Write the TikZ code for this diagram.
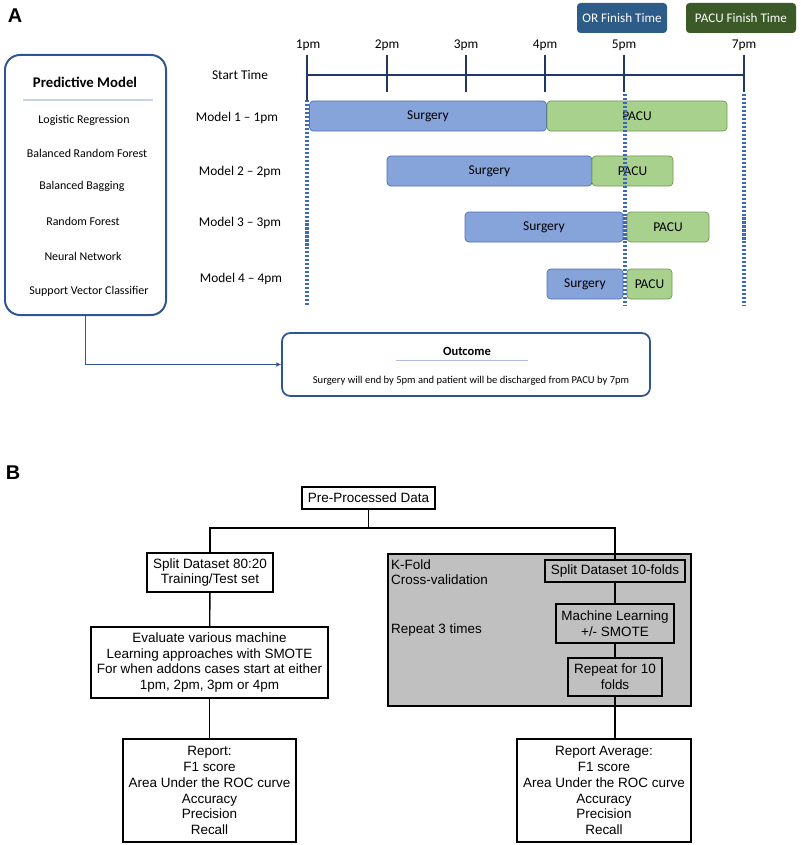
\documentclass[tikz,border=0pt]{standalone}
\usepackage{fontspec}
\setmainfont{Carlito}
\newfontfamily\arialf{Liberation Sans}
\usetikzlibrary{arrows.meta}
\definecolor{navy}{HTML}{1F3864}
\definecolor{pmblue}{HTML}{2F5597}
\definecolor{dotblue}{HTML}{3E68B8}
\definecolor{surgF}{HTML}{86A3DA}
\definecolor{surgD}{HTML}{4E72B8}
\definecolor{pacuF}{HTML}{A9D18E}
\definecolor{pacuD}{HTML}{6E9A50}
\definecolor{orbox}{HTML}{2E5C88}
\definecolor{pacubox}{HTML}{3B5A27}
\definecolor{sepline}{HTML}{C9D4E8}
\definecolor{grayfill}{HTML}{C0C0C0}
\begin{document}
\begin{tikzpicture}[x=0.03cm,y=-0.03cm,
  itemtxt/.style={font=\fontsize{10.2}{12}\selectfont, inner sep=0},
  lbl/.style={font=\fontsize{11.4}{13}\selectfont, inner sep=0},
  surg/.style={draw=surgD, fill=surgF, rounded corners=3.2pt, minimum height=0.9cm, inner sep=0, line width=0.6pt, font=\fontsize{11.5}{13}\selectfont},
  pacu/.style={draw=pacuD, fill=pacuF, rounded corners=3.2pt, minimum height=0.9cm, inner sep=0, line width=0.6pt, font=\fontsize{11.5}{13}\selectfont},
  hdr/.style={rounded corners=3pt, minimum height=0.9cm, inner sep=0, text=white, font=\fontsize{11.2}{13}\selectfont},
  dotl/.style={dotblue, line width=2.6pt, dash pattern=on 1.8pt off 1.6pt},
  axisl/.style={navy, line width=2.4pt},
  bbox/.style={draw=black, line width=1.4pt, align=center, inner sep=0, font=\arialf\fontsize{11.5}{13.6}\selectfont},
  bline/.style={black, line width=1.2pt},
  plabel/.style={font=\arialf\bfseries\fontsize{17}{19}\selectfont, inner sep=0}
]
\useasboundingbox (0,0) rectangle (800,845);

% ---------------- Panel A ----------------
\node[plabel] (labA) at (15,16) {A};

% Predictive model box
\node[draw=pmblue, line width=1.7pt, rounded corners=0.45cm, minimum width=4.83cm, minimum height=7.8cm] (pm) at (85.5,185) {};
\node[font=\bfseries\fontsize{12.6}{14}\selectfont, inner sep=0] (pmt) at (85,82) {Predictive Model};
\coordinate (pmsL) at (23,100);
\coordinate (pmsR) at (153,100);
\draw[sepline, line width=1pt] (pmsL) -- (pmsR);
\node[itemtxt] (i1) at (84,120) {Logistic Regression};
\node[itemtxt] (i2) at (87,153) {Balanced Random Forest};
\node[itemtxt] (i3) at (82,186) {Balanced Bagging};
\node[itemtxt] (i4) at (83,221) {Random Forest};
\node[itemtxt] (i5) at (83,256) {Neural Network};
\node[itemtxt] (i6) at (89,291) {Support Vector Classifier};

% header boxes
\node[hdr, fill=orbox, minimum width=2.7cm] (orf) at (622,18) {OR Finish Time};
\node[hdr, fill=pacubox, minimum width=3.3cm] (pcf) at (741,18) {PACU Finish Time};

% time labels
\node[lbl] (t1) at (308,45) {1pm};
\node[lbl] (t2) at (387,45) {2pm};
\node[lbl] (t3) at (466,45) {3pm};
\node[lbl] (t4) at (545,45) {4pm};
\node[lbl] (t5) at (624,45) {5pm};
\node[lbl] (t7) at (744,45) {7pm};

% axis
\coordinate (a1) at (307,75);
\coordinate (a7) at (744,75);
\draw[axisl] (a1) -- (a7);
\draw[axisl] (307,55) -- (307,100);
\draw[axisl] (387,55) -- (387,92);
\draw[axisl] (466,55) -- (466,92);
\draw[axisl] (545,55) -- (545,92);
\draw[axisl] (624,55) -- (624,92);
\draw[axisl] (744,55) -- (744,92);

% row labels
\node[lbl] (st) at (240,75) {Start Time};
\node[lbl] (m1) at (237,118) {Model 1 -- 1pm};
\node[lbl] (m2) at (240,172) {Model 2 -- 2pm};
\node[lbl] (m3) at (240,223) {Model 3 -- 3pm};
\node[lbl] (m4) at (241,279) {Model 4 -- 4pm};

% bars
\node[surg, minimum width=7.11cm] (s1) at (428,116) {Surgery};
\node[pacu, minimum width=5.4cm] (p1) at (637,116) {PACU};
\node[surg, minimum width=6.15cm] (s2) at (489.5,171) {Surgery};
\node[pacu, minimum width=2.43cm] (p2) at (632.5,171) {PACU};
\node[surg, minimum width=4.74cm] (s3) at (544,227) {Surgery};
\node[pacu, minimum width=2.46cm] (p3) at (668,227) {PACU};
\node[surg, minimum width=2.28cm] (s4) at (585,284) {Surgery};
\node[pacu, minimum width=1.35cm] (p4) at (649.5,284) {PACU};

% dotted lines
\draw[dotl] (307,100) -- (307,305);
\draw[dotl] (625,94) -- (625,306);
\draw[dotl] (744,94) -- (744,306);

% outcome box
\node[draw=pmblue, line width=1.5pt, rounded corners=0.25cm, minimum width=11.04cm, minimum height=1.89cm] (out) at (466,364.5) {};
\node[font=\bfseries\fontsize{10.7}{12}\selectfont, inner sep=0] (outt) at (467,351) {Outcome};
\coordinate (osL) at (396,360);
\coordinate (osR) at (528,360);
\draw[sepline!80!dotblue, line width=0.7pt] (osL) -- (osR);
\node[font=\fontsize{9}{11}\selectfont, inner sep=0] (outx) at (471,381) {Surgery will end by 5pm and patient will be discharged from PACU by 7pm};

\draw[pmblue, line width=1.2pt, -{Latex[length=4pt,width=4pt]}] (pm.south) |- (out.west);

% ---------------- Panel B ----------------
\node[plabel] (labB) at (13,473) {B};

\node[bbox, minimum width=3.99cm, minimum height=0.66cm] (pp) at (368.5,498) {Pre-Processed Data};
\node[bbox, minimum width=3.78cm, minimum height=1.17cm] (s80) at (210,572.5) {Split Dataset 80:20\\Training/Test set};
\node[bbox, minimum width=7.11cm, minimum height=2.13cm] (ev) at (209.5,662.5) {Evaluate various machine\\Learning approaches with SMOTE\\For when addons cases start at either\\1pm, 2pm, 3pm or 4pm};
\node[bbox, minimum width=5.19cm, minimum height=3.09cm] (rp) at (209.5,790.5) {Report:\\F1 score\\Area Under the ROC curve\\Accuracy\\Precision\\Recall};

\node[bbox, fill=grayfill, minimum width=9.09cm, minimum height=4.56cm] (gb) at (539.5,630) {};
\node[anchor=north west, align=left, inner sep=0, font=\arialf\fontsize{11.5}{13.6}\selectfont] (kf) at (391,559) {K-Fold\\Cross-validation};
\node[anchor=west, inner sep=0, font=\arialf\fontsize{11.5}{13.6}\selectfont] (r3) at (391,630) {Repeat 3 times};
\node[bbox, fill=grayfill, minimum width=4.2cm, minimum height=0.66cm] (s10) at (615,571) {Split Dataset 10-folds};
\node[bbox, fill=grayfill, minimum width=3.54cm, minimum height=1.17cm] (ml) at (615,623.5) {Machine Learning\\+/- SMOTE};
\node[bbox, fill=grayfill, minimum width=2.82cm, minimum height=1.14cm] (r10) at (615,677) {Repeat for 10\\folds};
\node[bbox, minimum width=5.22cm, minimum height=3.09cm] (ra) at (604,790.5) {Report Average:\\F1 score\\Area Under the ROC curve\\Accuracy\\Precision\\Recall};

\coordinate (jB) at (368.5,528);
\draw[bline] (pp.south) -- (jB);
\draw[bline] (s80.north) |- (jB) -| (s10.north);
\draw[bline] (s80) -- (ev);
\draw[bline] (ev) -- (rp);
\draw[bline] (s10) -- (ml);
\draw[bline] (ml) -- (r10);
\draw[bline] (r10.south) -- (r10.south |- ra.north);
\end{tikzpicture}
\end{document}
